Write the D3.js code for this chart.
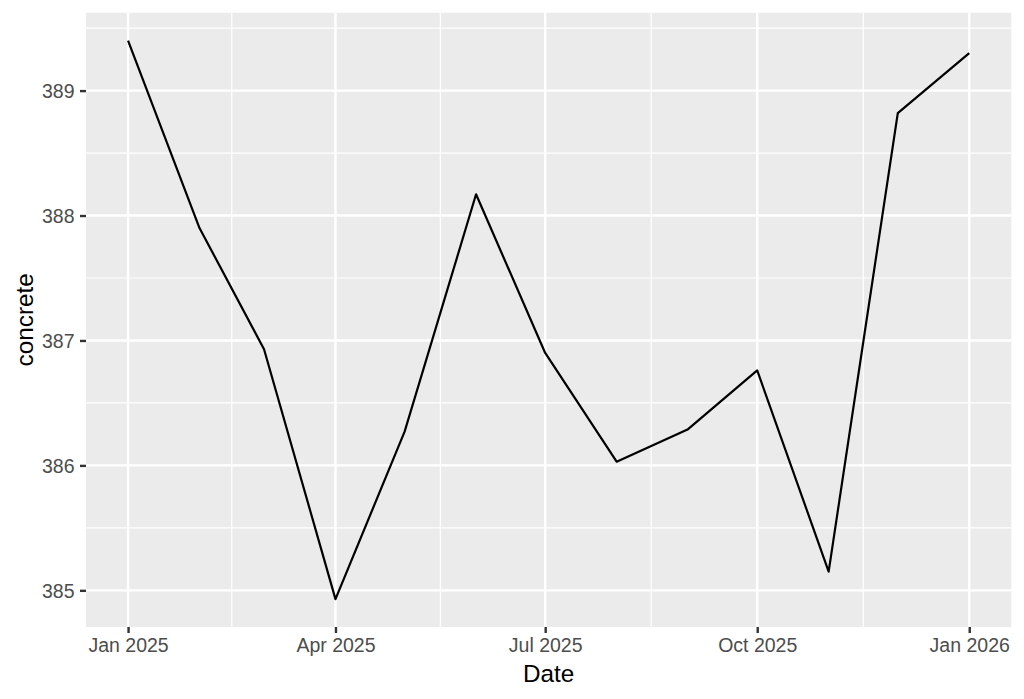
<!DOCTYPE html>
<html>
<head>
<meta charset="utf-8">
<script src="https://cdn.jsdelivr.net/npm/d3@7"></script>
<style>
  body { margin: 0; background: #ffffff; }
  text { font-family: "Liberation Sans", Arial, Helvetica, sans-serif; }
</style>
</head>
<body>
<div id="chart"></div>
<script>
// monthly readings
var dates = ["2025-01-01", "2025-02-01", "2025-03-01", "2025-04-01", "2025-05-01", "2025-06-01",
             "2025-07-01", "2025-08-01", "2025-09-01", "2025-10-01", "2025-11-01", "2025-12-01", "2026-01-01"];
var concrete = [389.40, 387.90, 386.93, 384.93, 386.27, 388.17, 386.90, 386.03, 386.29, 386.76, 385.15, 388.82, 389.30];
var yTicks = [385, 386, 387, 388, 389];

var width = 1024, height = 699;
var margin = {top: 12.7, right: 12.7, bottom: 72, left: 86};
var tickLen = 6, tickPad = 5.5;

var parse = d3.utcParse("%Y-%m-%d");
var data = dates.map(function (d, i) {
    return {date: parse(d), value: concrete[i]};
});

// ggplot style 5% expansion on both scales
var xExt = d3.extent(data, function (d) { return +d.date; });
var xPad = (xExt[1] - xExt[0]) * 0.05;
var x = d3.scaleUtc()
    .domain([new Date(xExt[0] - xPad), new Date(xExt[1] + xPad)])
    .range([margin.left, width - margin.right]);

var yExt = d3.extent(concrete);
var yPad = (yExt[1] - yExt[0]) * 0.05;
var y = d3.scaleLinear()
    .domain([yExt[0] - yPad, yExt[1] + yPad])
    .range([height - margin.bottom, margin.top]);

var xTicks = x.ticks(d3.utcMonth.every(3));
var xMinor = [];
for (var i = 0; i < xTicks.length - 1; i++) {
    xMinor.push(new Date((+xTicks[i] + +xTicks[i + 1]) / 2));
}
var yMinor = [];
for (var j = 0; j < yTicks.length; j++) {
    [yTicks[j] - 0.5, yTicks[j] + 0.5].forEach(function (v) {
        if (v > y.domain()[0] && v < y.domain()[1] && yMinor.indexOf(v) < 0) yMinor.push(v);
    });
}

var svg = d3.select("#chart").append("svg")
    .attr("width", width)
    .attr("height", height);

//panel background
svg.append("rect")
    .attr("x", margin.left)
    .attr("y", margin.top)
    .attr("width", width - margin.left - margin.right)
    .attr("height", height - margin.top - margin.bottom)
    .style("fill", "#ebebeb");

//minor grid
svg.append("g").selectAll("line").data(yMinor).enter().append("line")
    .attr("x1", margin.left).attr("x2", width - margin.right)
    .attr("y1", function (d) { return y(d); }).attr("y2", function (d) { return y(d); })
    .attr("stroke", "white").attr("stroke-width", 1.2);
svg.append("g").selectAll("line").data(xMinor).enter().append("line")
    .attr("y1", margin.top).attr("y2", height - margin.bottom)
    .attr("x1", function (d) { return x(d); }).attr("x2", function (d) { return x(d); })
    .attr("stroke", "white").attr("stroke-width", 1.2);

//major grid
svg.append("g").selectAll("line").data(yTicks).enter().append("line")
    .attr("x1", margin.left).attr("x2", width - margin.right)
    .attr("y1", function (d) { return y(d); }).attr("y2", function (d) { return y(d); })
    .attr("stroke", "white").attr("stroke-width", 2.4);
svg.append("g").selectAll("line").data(xTicks).enter().append("line")
    .attr("y1", margin.top).attr("y2", height - margin.bottom)
    .attr("x1", function (d) { return x(d); }).attr("x2", function (d) { return x(d); })
    .attr("stroke", "white").attr("stroke-width", 2.4);

//the line
var line = d3.line()
    .x(function (d) { return x(d.date); })
    .y(function (d) { return y(d.value); });
svg.append("path")
    .datum(data)
    .attr("d", line)
    .attr("fill", "none")
    .attr("stroke", "black")
    .attr("stroke-width", 2.2)
    .attr("stroke-linejoin", "round");

//axes
var xAxis = svg.append("g")
    .attr("transform", "translate(0," + (height - margin.bottom) + ")")
    .call(d3.axisBottom(x).tickValues(xTicks).tickFormat(d3.utcFormat("%b %Y"))
        .tickSize(tickLen).tickPadding(tickPad));
var yAxis = svg.append("g")
    .attr("transform", "translate(" + margin.left + ",0)")
    .call(d3.axisLeft(y).tickValues(yTicks).tickFormat(d3.format("d"))
        .tickSize(tickLen).tickPadding(tickPad));

[xAxis, yAxis].forEach(function (ax) {
    ax.select(".domain").remove();
    ax.selectAll(".tick line").attr("stroke", "#333333").attr("stroke-width", 2.4);
    ax.selectAll(".tick text")
        .attr("fill", "#4d4d4d")
        .style("font-size", "19.5px")
        .style("font-family", "'Liberation Sans', Arial, sans-serif");
});
yAxis.selectAll(".tick text").attr("dy", "0.36em");

//axis titles
svg.append("text")
    .text("Date")
    .attr("x", (margin.left + width - margin.right) / 2)
    .attr("y", 681.5)
    .attr("text-anchor", "middle")
    .attr("font-size", "24.3px")
    .attr("fill", "black");
svg.append("text")
    .text("concrete")
    .attr("transform", "translate(33," + ((margin.top + height - margin.bottom) / 2) + ") rotate(-90)")
    .attr("text-anchor", "middle")
    .attr("font-size", "24.3px")
    .attr("fill", "black");
</script>
</body>
</html>
